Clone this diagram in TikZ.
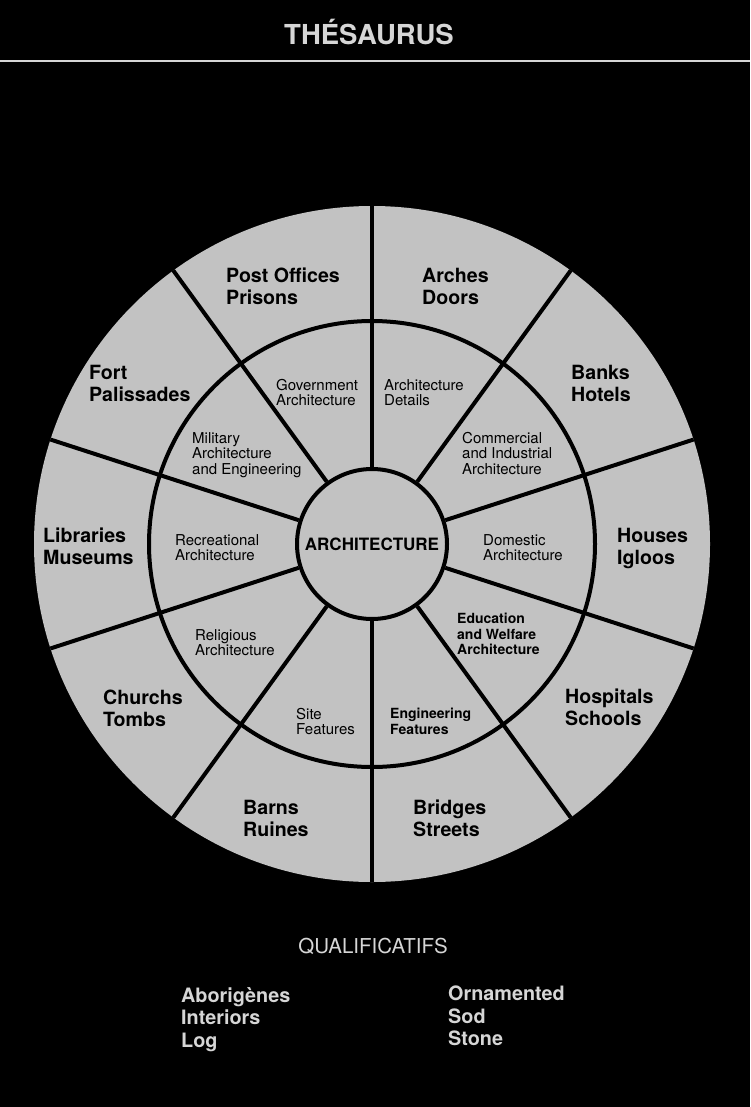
\documentclass[tikz,border=0pt]{standalone}
\usepackage{fontspec}
\setmainfont{TeX Gyre Heros}

\definecolor{disc}{gray}{0.76}
\definecolor{chalk}{gray}{0.84}

\tikzset{
  rim/.style={circle,fill=disc,inner sep=0pt},
  spoke/.style={line width=4pt},
  wing/.style={anchor=north west,inner sep=0pt,align=left,
    font=\fontsize{19.6}{22}\selectfont\bfseries},
  sector/.style={anchor=north west,inner sep=0pt,align=left,
    font=\fontsize{15}{15.5}\selectfont},
  sectorbold/.style={sector,font=\fontsize{14}{15.5}\selectfont\bfseries},
  qual/.style={anchor=north west,inner sep=0pt,align=left,text=chalk,
    font=\fontsize{19.8}{22.5}\selectfont\bfseries}
}

\begin{document}
\begin{tikzpicture}[x=1pt,y=-1pt]

\useasboundingbox (0,0) rectangle (750,1107);
\fill[black] (0,0) rectangle (750,1107);

% titre
\node[text=chalk,anchor=base,inner sep=0pt,font=\fontsize{27.5}{30}\selectfont\bfseries]
(title)
at (369,45)
{THÉSAURUS};

\coordinate (barw) at (0,61);
\coordinate (bare) at (750,61);
\draw[chalk,line width=2pt]
(barw)--(bare);

% roue
\node[rim,minimum size=676pt]
(wheel)
at (372,544)
{};

\node[circle,draw,line width=4pt,minimum size=446pt,inner sep=0pt]
(ring)
at (372,544)
{};

\node[circle,draw,fill=disc,line width=4pt,minimum size=150pt,inner sep=0pt,
  font=\fontsize{17}{20}\selectfont\bfseries]
(hub)
at (372,544)
{ARCHITECTURE};

\foreach \ang in {18,54,...,342}
  \draw[spoke]
  (hub.\ang)--(wheel.\ang);

% couronne interieure
\node[sector]
(gov)
at (276,379)
{Government\\Architecture};

\node[sector]
(details)
at (384,379)
{Architecture\\Details};

\node[sector]
(military)
at (192,432)
{Military\\Architecture\\and Engineering};

\node[sector]
(commerce)
at (462,432)
{Commercial\\and Industrial\\Architecture};

\node[sector]
(recreation)
at (175,534)
{Recreational\\Architecture};

\node[sector]
(domestic)
at (483,534)
{Domestic\\Architecture};

\node[sector]
(religion)
at (195,629)
{Religious\\Architecture};

\node[sectorbold]
(welfare)
at (457,613)
{Education\\and Welfare\\Architecture};

\node[sector]
(site)
at (296,708)
{Site\\Features};

\node[sectorbold]
(engineering)
at (390,708)
{Engineering\\Features};

% couronne exterieure
\node[wing]
(post)
at (226,268)
{Post Offices\\Prisons};

\node[wing]
(arches)
at (422,268)
{Arches\\Doors};

\node[wing]
(fort)
at (89,365)
{Fort\\Palissades};

\node[wing]
(banks)
at (571,365)
{Banks\\Hotels};

\node[wing]
(libraries)
at (43,528)
{Libraries\\Museums};

\node[wing]
(houses)
at (617,528)
{Houses\\Igloos};

\node[wing]
(churchs)
at (103,690)
{Churchs\\Tombs};

\node[wing]
(hospitals)
at (565,689)
{Hospitals\\Schools};

\node[wing]
(barns)
at (243,800)
{Barns\\Ruines};

\node[wing]
(bridges)
at (413,800)
{Bridges\\Streets};

% qualificatifs
\node[text=chalk,anchor=base,inner sep=0pt,font=\fontsize{20.5}{24}\selectfont]
(qualif)
at (373,953)
{QUALIFICATIFS};

\node[qual]
(listl)
at (181,987)
{Aborigènes\\Interiors\\Log};

\node[qual]
(listr)
at (448,986)
{Ornamented\\Sod\\Stone};

\end{tikzpicture}
\end{document}
